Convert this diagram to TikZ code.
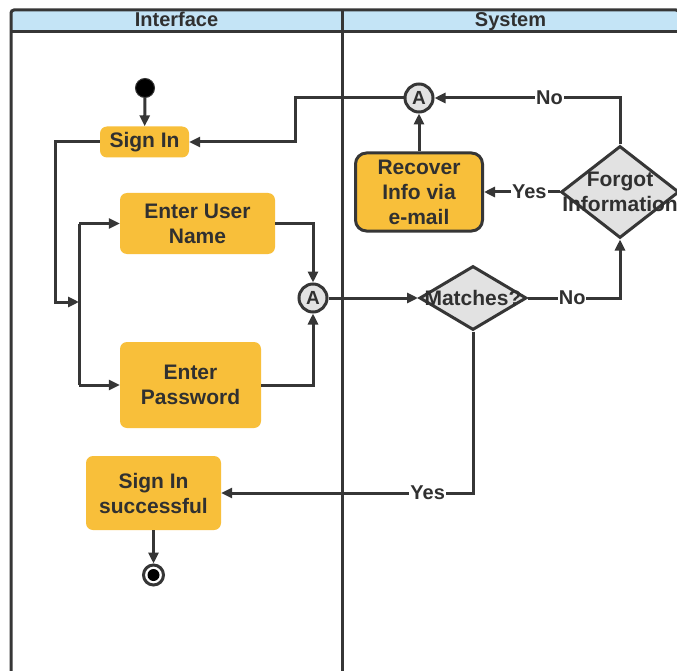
\documentclass[tikz,border=0pt]{standalone}
\usepackage{fontspec}
\setmainfont{Liberation Sans}
\usetikzlibrary{shapes.geometric,arrows.meta,positioning}
\definecolor{ink}{HTML}{363636}
\definecolor{txt}{HTML}{303030}
\definecolor{act}{HTML}{F8BF3A}
\definecolor{gry}{HTML}{E2E2E2}
\definecolor{hdr}{HTML}{C4E4F6}
\tikzset{
  flow/.style={draw=ink, line width=3pt},
  arr/.style={flow, -{Triangle[length=11pt,width=10pt]}},
  activity/.style={rectangle, rounded corners=7pt, fill=act, align=center,
    text=txt, font=\fontsize{21}{25}\selectfont\bfseries, inner sep=0pt},
  conn/.style={circle, draw=ink, fill=gry, line width=3pt, minimum size=28pt,
    inner sep=0pt, text=txt, font=\fontsize{19}{20}\selectfont\bfseries},
  decision/.style={diamond, draw=ink, fill=gry, line width=3pt, inner sep=0pt},
  dtext/.style={text=txt, align=center, font=\fontsize{21}{25}\selectfont\bfseries},
  guard/.style={fill=white, inner sep=1pt, text=txt,
    font=\fontsize{20}{22}\selectfont\bfseries},
  lanehead/.style={text=txt, text height=14pt, text depth=4pt, inner sep=0pt,
    font=\fontsize{20}{22}\selectfont\bfseries}
}
\begin{document}
\begin{tikzpicture}[x=1pt,y=-1pt]
\useasboundingbox (0,0) rectangle (677,671);
\fill[white] (0,0) rectangle (677,671);

% swimlane frame
\fill[hdr, rounded corners=3pt] (11,10) rectangle (679,32);
\draw[flow, rounded corners=3pt] (11,690) -- (11,10) -- (679,10) -- (679,690);
\draw[flow] (11,32) -- (679,32);
\draw[flow] (342,10) -- (342,690);
\node[lanehead] (laneI) at (176.5,22) {Interface};
\node[lanehead] (laneS) at (510.5,22) {System};

% interface lane
\node[circle, fill=black, draw=ink, line width=1pt, minimum size=19pt, inner sep=0pt] (start) at (145,88) {};
\node[activity, minimum width=89pt, minimum height=31pt] (signin) at (144.5,142) {Sign In};
\node[activity, minimum width=155pt, minimum height=61pt] (user) at (197.5,223.5) {Enter User\\Name};
\node[activity, minimum width=141pt, minimum height=86pt] (pass) at (190.5,385) {Enter\\Password};
\node[activity, minimum width=135pt, minimum height=74pt] (succ) at (153.5,493) {Sign In\\successful};
\node[circle, draw=ink, fill=white, line width=3pt, minimum size=20pt, inner sep=0pt] (end) at (153.5,575) {};
\fill[black] (end.center) circle (6pt);
\node[conn] (ca) at (313,298) {A};

% system lane
\node[conn] (cb) at (419,98) {A};
\node[activity, draw=ink, line width=3pt, rounded corners=11pt, minimum width=127pt, minimum height=78pt] (recover) at (419,192) {Recover\\Info via\\e-mail};
\node[decision, minimum width=107pt, minimum height=64pt] (match) at (473,298) {};
\node[dtext] at (match.center) {Matches?};
\node[decision, minimum width=118pt, minimum height=92pt] (forgot) at (620,192) {};
\node[dtext] at (forgot.center) {Forgot\\Information};

% junction points
\coordinate (join) at (79,302);
\coordinate (ftop) at (79,223.5);
\coordinate (fbot) at (79,385);
\coordinate (back) at (295,98);

% connectors
\draw[arr] (start) -- (signin);
\draw[arr] (signin.west) -- ++(-44,0) |- (join);
\draw[flow] (ftop) -- (fbot);
\draw[arr] (ftop) -- (user.west);
\draw[arr] (fbot) -- (pass.west);
\draw[arr] (user.east) -| (ca.north);
\draw[arr] (pass.east) -| (ca.south);
\draw[arr] (ca.east) -- (match.west);
\draw[arr] (match.east) -| node[guard, pos=0.24] {No} (forgot.south);
\draw[arr] (match.south) |- node[guard, pos=0.59] {Yes} (succ.east);
\draw[arr] (forgot.west) -- node[guard, pos=0.4] {Yes} (recover.east);
\draw[arr] (forgot.north) |- node[guard, pos=0.69] {No} (cb.east);
\draw[arr] (recover.north) -- (cb.south);
\draw[arr] (cb.west) -- (back) |- (signin.east);
\draw[arr] (succ.south) -- (end.north);
\end{tikzpicture}
\end{document}
